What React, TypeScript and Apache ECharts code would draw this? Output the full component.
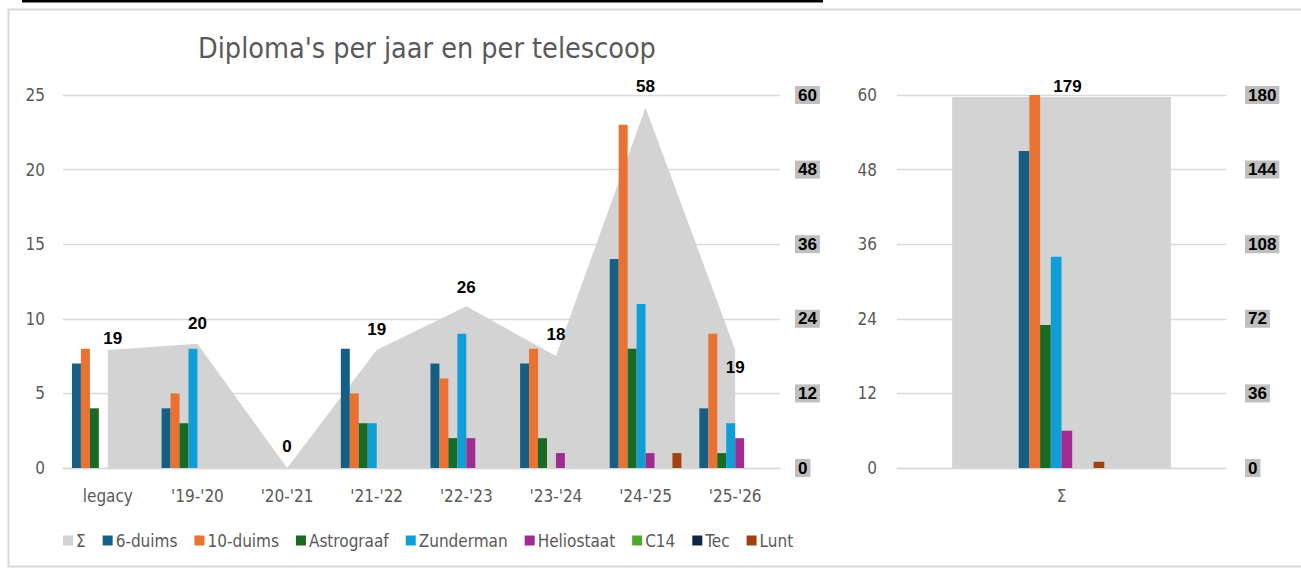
import React, { useEffect, useRef } from "react";
import * as echarts from "echarts";

// ---------- data ----------
const categories = ["legacy", "'19-'20", "'20-'21", "'21-'22", "'22-'23", "'23-'24", "'24-'25", "'25-'26"];
const sigmaPerYear = [19, 20, 0, 19, 26, 18, 58, 19];
const zesDuims = [7, 4, 0, 8, 7, 7, 14, 4];
const tienDuims = [8, 5, 0, 5, 6, 8, 23, 9];
const astrograaf = [4, 3, 0, 3, 2, 2, 8, 1];
const zunderman = [0, 8, 0, 3, 9, 0, 11, 3];
const heliostaat = [0, 0, 0, 0, 2, 1, 1, 2];
const c14 = [0, 0, 0, 0, 0, 0, 0, 0];
const tec = [0, 0, 0, 0, 0, 0, 0, 0];
const lunt = [0, 0, 0, 0, 0, 0, 1, 0];

const totalCategory = ["Σ"];
const totalSigma = [179];
const totalPerTelescope = [51, 64, 23, 34, 6, 0, 0, 1];

const telescopeNames = ["6-duims", "10-duims", "Astrograaf", "Zunderman", "Heliostaat", "C14", "Tec", "Lunt"];
const telescopeSeries = [zesDuims, tienDuims, astrograaf, zunderman, heliostaat, c14, tec, lunt];
const sigmaName = "Σ";

// ---------- style ----------
const colors = ["#156082", "#E97132", "#196B24", "#0F9ED5", "#A02B93", "#4EA72E", "#0E2841", "#A0410F"];
const AREA = "#d3d3d3";
const GRID = "#d9d9d9";
const TXT = "#595959";
const FONT = "'Liberation Sans Narrow', 'DejaVu Sans Condensed', Roboto, sans-serif";
const BOLD_FONT = "'Liberation Sans', Arial, sans-serif";
// label placement per year point (style only)
const labelAdjust = [
  { position: "top", distance: 3, offset: [5, 0] },
  { position: "top", distance: 12 },
  { position: "top", distance: 13 },
  { position: "top", distance: 12 },
  { position: "top", distance: 10 },
  { position: "top", distance: 13 },
  { position: "top", distance: 12 },
  { position: "bottom", distance: 9 },
];

export default function App() {
  const ref = useRef<HTMLDivElement>(null);
  useEffect(() => {
    document.body.style.margin = "0";
    const chart = echarts.init(ref.current!, null, { renderer: "svg" });

    const rightAxisLabel = {
      color: "#000",
      fontWeight: "bold",
      fontSize: 17,
      fontFamily: BOLD_FONT,
      backgroundColor: "#bfbfbf",
      padding: [1, 3, 0, 3],
      margin: 15,
      align: "left",
    };
    const leftAxisLabel = { color: TXT, fontSize: 17, fontFamily: FONT, margin: 18 };
    const split = { show: true, lineStyle: { color: GRID, width: 1.3 } };
    const dataLabel = { show: true, color: "#000", fontWeight: "bold", fontSize: 17, fontFamily: BOLD_FONT };

    const series: any[] = [];
    series.push({
      name: sigmaName,
      type: "line",
      xAxisIndex: 0,
      yAxisIndex: 1,
      data: sigmaPerYear.map((v, i) => ({ value: v, label: labelAdjust[i] })),
      symbol: "circle",
      symbolSize: 0,
      showSymbol: true,
      lineStyle: { width: 0 },
      areaStyle: { color: AREA, opacity: 1 },
      itemStyle: { color: AREA },
      z: 1,
      label: dataLabel,
    });
    telescopeNames.forEach((n, k) => {
      series.push({
        name: n,
        type: "bar",
        xAxisIndex: 0,
        yAxisIndex: 0,
        data: telescopeSeries[k],
        itemStyle: { color: colors[k] },
        barGap: "0%",
        barCategoryGap: "20%",
        z: 3,
      });
    });
    series.push({
      name: sigmaName,
      type: "bar",
      xAxisIndex: 2,
      yAxisIndex: 3,
      data: totalSigma,
      barWidth: "66.5%",
      itemStyle: { color: AREA },
      z: 1,
      label: { ...dataLabel, position: "top", distance: 2, offset: [6, 0] },
    });
    telescopeNames.forEach((n, k) => {
      series.push({
        name: n,
        type: "bar",
        xAxisIndex: 1,
        yAxisIndex: 2,
        data: [totalPerTelescope[k]],
        itemStyle: { color: colors[k] },
        barGap: "0%",
        barCategoryGap: "74%",
        clip: true,
        z: 3,
      });
    });

    chart.setOption({
      animation: false,
      title: {
        text: "Diploma's per jaar en per telescoop",
        left: 193,
        top: 29,
        textStyle: { color: TXT, fontSize: 28.5, fontWeight: "normal", fontFamily: FONT },
      },
      legend: {
        data: [sigmaName, ...telescopeNames],
        left: 58,
        top: 527,
        icon: "rect",
        itemWidth: 10,
        itemHeight: 10,
        itemGap: 17,
        textStyle: { color: TXT, fontSize: 17, fontFamily: FONT, padding: [0, 0, 0, -2] },
        selectedMode: false,
      },
      graphic: [
        { type: "rect", shape: { x: 8.5, y: 9.5, width: 1300, height: 557 }, style: { fill: "none", stroke: "#d9d9d9", lineWidth: 2 } },
        { type: "rect", shape: { x: 22, y: 0, width: 801, height: 2.5 }, style: { fill: "#000" } },
      ],
      grid: [
        { left: 63, top: 95, width: 717, height: 373 },
        { left: 897, top: 95, width: 329, height: 373 },
      ],
      xAxis: [
        {
          type: "category",
          gridIndex: 0,
          data: categories,
          axisLine: { lineStyle: { color: GRID, width: 1.3 } },
          axisTick: { show: false },
          axisLabel: { color: TXT, fontSize: 17, fontFamily: FONT, margin: 19 },
        },
        {
          type: "category",
          gridIndex: 1,
          data: totalCategory,
          axisLine: { lineStyle: { color: GRID, width: 1.3 } },
          axisTick: { show: false },
          axisLabel: { color: TXT, fontSize: 17, fontFamily: FONT, margin: 19 },
        },
        {
          type: "category",
          gridIndex: 1,
          data: totalCategory,
          show: false,
        },
      ],
      yAxis: [
        { type: "value", gridIndex: 0, min: 0, max: 25, interval: 5, axisLabel: leftAxisLabel, splitLine: split, axisLine: { show: false } },
        { type: "value", gridIndex: 0, position: "right", min: 0, max: 60, interval: 12, axisLabel: rightAxisLabel, splitLine: { show: false }, axisLine: { show: false } },
        { type: "value", gridIndex: 1, min: 0, max: 60, interval: 12, axisLabel: { ...leftAxisLabel, margin: 20 }, splitLine: split, axisLine: { show: false } },
        { type: "value", gridIndex: 1, position: "right", min: 0, max: 180, interval: 36, axisLabel: { ...rightAxisLabel, margin: 19 }, splitLine: { show: false }, axisLine: { show: false } },
      ],
      series,
    });
    return () => chart.dispose();
  }, []);
  return <div ref={ref} style={{ width: 1301, height: 570, background: "#fff" }} />;
}
